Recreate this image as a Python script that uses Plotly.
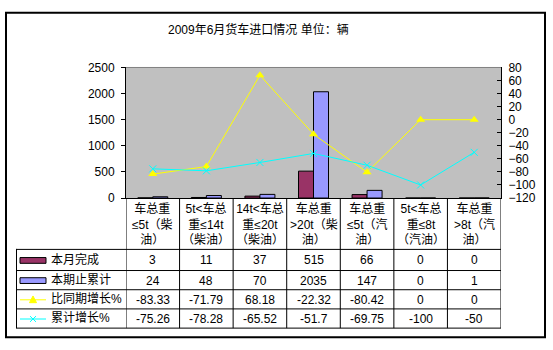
import plotly.graph_objects as go

# ---- data ----
categories = [
    "车总重≤5t（柴油）",
    "5t<车总重≤14t（柴油）",
    "14t<车总重≤20t（柴油）",
    "车总重>20t（柴油）",
    "车总重≤5t（汽油）",
    "5t<车总重≤8t（汽油）",
    "车总重>8t（汽油）",
]
# how each category name wraps inside its table header cell
category_lines = [
    ["车总重", "≤5t（柴", "油）"],
    ["5t<车总", "重≤14t", "（柴油）"],
    ["14t<车总", "重≤20t", "（柴油）"],
    ["车总重", ">20t（柴", "油）"],
    ["车总重", "≤5t（汽", "油）"],
    ["5t<车总", "重≤8t", "（汽油）"],
    ["车总重", ">8t（汽", "油）"],
]
month_done = [3, 11, 37, 515, 66, 0, 0]            # 本月完成
ytd_total = [24, 48, 70, 2035, 147, 0, 1]          # 本期止累计
yoy_growth = [-83.33, -71.79, 68.18, -22.32, -80.42, 0, 0]   # 比同期增长%
ytd_growth = [-75.26, -78.28, -65.52, -51.7, -69.75, -100, -50]  # 累计增长%

series_names = ["本月完成", "本期止累计", "比同期增长%", "累计增长%"]
title_text = "2009年6月货车进口情况 单位：辆"

# ---- layout helpers (pixel -> paper) ----
W, H = 553, 350


def px(x):
    return x / W


def py(y):
    return 1 - y / H


FONT = "Liberation Sans, Arial, Noto Sans CJK SC, sans-serif"
PLOT_L, PLOT_R, PLOT_T, PLOT_B = 126, 501, 63, 199
TABLE_L, TABLE_B = 16, 334
ROW_EDGES = [252, 274, 294, 314, 334]
HEADER_MID = (PLOT_B + ROW_EDGES[0]) / 2

MAROON = "#993366"
LAVENDER = "#9999FF"
YELLOW = "#FFFF00"
CYAN = "#00FFFF"

fig = go.Figure()

fig.add_trace(go.Bar(x=categories, y=month_done, name=series_names[0],
                     marker=dict(color=MAROON, line=dict(color="black", width=1))))
fig.add_trace(go.Bar(x=categories, y=ytd_total, name=series_names[1],
                     marker=dict(color=LAVENDER, line=dict(color="black", width=1))))
fig.add_trace(go.Scatter(x=categories, y=yoy_growth, name=series_names[2], yaxis="y2",
                         mode="lines+markers",
                         line=dict(color=YELLOW, width=1),
                         marker=dict(symbol="triangle-up", size=8, color=YELLOW)))
fig.add_trace(go.Scatter(x=categories, y=ytd_growth, name=series_names[3], yaxis="y2",
                         mode="lines+markers",
                         line=dict(color=CYAN, width=1),
                         marker=dict(symbol="x-thin", size=7,
                                     line=dict(color=CYAN, width=1))))

shapes = []
annotations = []


def hline(x0, x1, y, xref="paper", color="black", width=1):
    shapes.append(dict(type="line", xref=xref, yref="paper",
                       x0=x0, x1=x1, y0=py(y), y1=py(y),
                       line=dict(color=color, width=width)))


# outer chart border
shapes.append(dict(type="rect", xref="paper", yref="paper",
                   x0=px(6), x1=px(545), y0=py(6), y1=py(344),
                   line=dict(color="black", width=2), fillcolor="rgba(0,0,0,0)"))

# grey top edge of plot area
hline(px(PLOT_L), px(PLOT_R), PLOT_T, color="#808080", width=1)

# data table: horizontal rules
for y in ROW_EDGES:
    hline(px(TABLE_L), px(PLOT_R), y + 0.5)

# data table: vertical rules at category boundaries
n = len(categories)
for k in range(n + 1):
    shapes.append(dict(type="line", xref="x", yref="paper",
                       x0=k - 0.5, x1=k - 0.5, y0=py(PLOT_B), y1=py(TABLE_B + 0.5),
                       line=dict(color="black", width=1)))
shapes.append(dict(type="line", xref="paper", yref="paper",
                   x0=px(TABLE_L + 0.5), x1=px(TABLE_L + 0.5),
                   y0=py(ROW_EDGES[0]), y1=py(TABLE_B + 0.5),
                   line=dict(color="black", width=1)))

# header cells
for cat, lines in zip(categories, category_lines):
    annotations.append(dict(x=cat, xref="x", y=py(HEADER_MID + 1), yref="paper",
                            text="<br>".join(l.replace("<", "&lt;") for l in lines),
                            showarrow=False, xanchor="center", yanchor="middle",
                            font=dict(family=FONT, size=12, color="black")))

# value cells
row_mids = [(ROW_EDGES[i] + ROW_EDGES[i + 1]) / 2 for i in range(4)]
for series, ymid in zip([month_done, ytd_total, yoy_growth, ytd_growth], row_mids):
    for cat, v in zip(categories, series):
        annotations.append(dict(x=cat, xref="x", y=py(ymid + 1), yref="paper",
                                text=f"{v:g}", showarrow=False,
                                xanchor="center", yanchor="middle",
                                font=dict(family=FONT, size=12, color="black")))

# row labels with legend keys
for name, ymid in zip(series_names, row_mids):
    annotations.append(dict(x=px(49), xref="paper", y=py(ymid), yref="paper",
                            text=name, showarrow=False, xanchor="left", yanchor="middle",
                            font=dict(family=FONT, size=12, color="black")))

for color, ymid in zip([MAROON, LAVENDER], row_mids[:2]):
    shapes.append(dict(type="rect", xref="paper", yref="paper",
                       x0=px(20), x1=px(46), y0=py(ymid + 4), y1=py(ymid - 2),
                       fillcolor=color, line=dict(color="black", width=1)))

# line-series keys
ky = row_mids[2] + 1
hline(px(20), px(46), ky, color=YELLOW, width=1)
shapes.append(dict(type="path", xref="paper", yref="paper",
                   path=f"M {px(29.5)} {py(ky + 3)} L {px(36.5)} {py(ky + 3)} L {px(33)} {py(ky - 4)} Z",
                   fillcolor=YELLOW, line=dict(color=YELLOW, width=1)))
ky = row_mids[3] + 1
hline(px(20), px(46), ky, color=CYAN, width=1)
for a, b in [((30, ky - 3), (36, ky + 3)), ((30, ky + 3), (36, ky - 3))]:
    shapes.append(dict(type="line", xref="paper", yref="paper",
                       x0=px(a[0]), y0=py(a[1]), x1=px(b[0]), y1=py(b[1]),
                       line=dict(color=CYAN, width=1)))

# title
annotations.append(dict(x=px(258.5), y=py(23), xref="paper", yref="paper",
                        text=title_text, showarrow=False,
                        xanchor="center", yanchor="middle",
                        font=dict(family=FONT, size=12, color="black")))

fig.update_layout(
    width=W, height=H,
    margin=dict(l=0, r=0, t=0, b=0),
    paper_bgcolor="white",
    plot_bgcolor="#C0C0C0",
    showlegend=False,
    barmode="group",
    bargap=0.44,
    bargroupgap=0,
    font=dict(family=FONT, size=12, color="black"),
    xaxis=dict(domain=[px(PLOT_L), px(PLOT_R)], type="category",
               range=[-0.5, n - 0.5], showticklabels=False, ticks="",
               showline=True, linecolor="black", linewidth=1,
               showgrid=False, zeroline=False, fixedrange=True),
    yaxis=dict(domain=[py(PLOT_B), py(PLOT_T)], range=[0, 2500], dtick=500,
               showgrid=False, zeroline=False, showline=True, linecolor="black",
               linewidth=1, ticks="outside", ticklen=4, tickcolor="black",
               ticklabelstandoff=4,
               tickfont=dict(family=FONT, size=12, color="black")),
    yaxis2=dict(overlaying="y", side="right", anchor="x", range=[-120, 80], dtick=20,
                showgrid=False, zeroline=False, showline=True, linecolor="black",
                linewidth=1, ticks="inside", ticklen=4, tickcolor="black",
                ticklabelstandoff=4,
                tickfont=dict(family=FONT, size=12, color="black")),
    shapes=shapes,
    annotations=annotations,
)

fig.write_html("out.html")
